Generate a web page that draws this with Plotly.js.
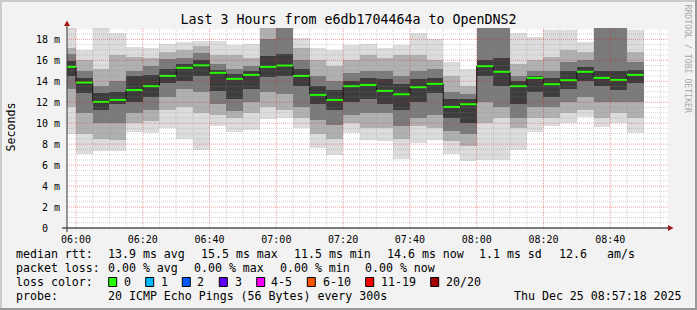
<!DOCTYPE html>
<html>
<head>
<meta charset="utf-8">
<script src="https://cdn.plot.ly/plotly-3.0.1.min.js"></script>
<style>
html,body{margin:0;padding:0;background:#f2f2f2;}
#wrap{position:relative;width:697px;height:310px;overflow:hidden;}
#chart{position:absolute;left:0;top:0;width:697px;height:310px;}
.b{position:absolute;pointer-events:none;}
</style>
</head>
<body>
<div id="wrap">
<div id="chart"></div>
<div class="b" style="left:0;top:0;width:697px;height:2px;background:#cbcbcb;"></div>
<div class="b" style="left:0;top:0;width:2px;height:310px;background:#cbcbcb;"></div>
<div class="b" style="right:0;top:0;width:2px;height:310px;background:#999999;"></div>
<div class="b" style="left:0;bottom:0;width:697px;height:2px;background:#999999;"></div>
</div>
<script>
// ---- data ----
const day = "2025-12-25 ";
const slotStart = ["05:55","06:00","06:05","06:10","06:15","06:20","06:25","06:30","06:35","06:40",
  "06:45","06:50","06:55","07:00","07:05","07:10","07:15","07:20","07:25","07:30",
  "07:35","07:40","07:45","07:50","07:55","08:00","08:05","08:10","08:15","08:20",
  "08:25","08:30","08:35","08:40","08:45"];
// median rtt (ms)
const medianMs = [15.37,13.88,12.03,12.22,13.17,13.53,14.51,15.28,15.52,14.80,
  14.23,14.61,15.37,15.50,14.51,12.70,12.22,13.53,13.65,13.08,
  12.76,13.43,13.75,11.55,11.81,15.44,14.90,13.53,14.32,13.72,
  14.10,14.90,14.32,14.13,14.61];
// smoke bands (outer -> inner), upper and lower ping values (ms)
const hi1 = [19.5,17.0,19.2,18.6,17.3,17.2,17.6,17.7,17.8,17.8,17.5,17.6,19.5,19.5,18.1,17.2,17.0,17.5,17.6,17.2,17.5,18.6,18.0,15.8,15.2,19.5,19.5,18.6,18.2,18.9,18.9,17.7,19.5,19.5,18.9];
const hi2 = [17.2,16.0,15.2,16.5,16.3,16.2,16.8,17.0,17.4,16.5,16.5,16.2,19.3,19.4,17.2,16.0,15.5,16.0,16.5,16.2,16.5,16.5,16.0,14.5,13.5,19.4,19.4,15.6,16.0,16.3,17.0,16.8,19.4,19.4,16.8];
const hi3 = [16.6,15.0,13.5,14.0,15.0,15.5,16.1,16.2,16.7,15.6,15.2,15.5,18.0,19.3,16.0,14.5,14.0,14.8,15.0,15.0,14.5,15.0,15.2,13.0,12.8,19.3,19.3,14.5,15.0,15.0,15.8,16.0,19.3,19.3,15.8];
const hi4 = [15.9,14.3,12.9,13.0,14.5,14.6,15.2,15.6,16.0,15.1,14.7,15.0,16.4,16.6,15.2,13.5,13.2,14.0,14.3,14.2,13.7,14.2,14.3,12.3,12.3,16.0,16.2,14.0,14.5,14.3,15.0,15.4,15.0,15.0,15.1];
const lo4 = [14.5,12.9,11.3,11.8,12.0,12.5,13.8,14.0,14.5,13.1,12.3,13.3,14.4,14.5,13.5,11.8,11.3,12.0,12.3,11.8,11.3,12.0,12.9,10.5,10.0,14.5,13.5,11.8,13.0,12.5,13.3,14.0,13.5,13.2,13.8];
const lo3 = [13.3,11.0,10.0,10.0,11.0,11.3,12.5,13.3,13.0,11.8,11.2,12.0,13.0,12.8,11.5,10.3,9.8,10.8,11.0,11.0,9.7,10.5,10.8,9.3,9.0,12.0,11.5,10.5,11.5,11.5,12.0,12.5,12.0,12.0,12.0];
const lo2 = [11.5,9.0,8.5,8.4,10.0,10.2,11.3,11.5,11.0,10.8,10.5,11.0,11.5,11.3,10.5,9.0,8.5,10.0,9.5,9.5,8.5,9.7,9.5,8.3,7.8,10.0,10.5,9.5,10.5,10.5,11.0,11.3,10.5,11.0,10.5];
const lo1 = [9.0,7.1,7.3,7.3,9.2,9.1,9.55,8.5,7.4,9.7,9.2,9.35,10.4,10.5,9.5,7.6,7.0,9.05,8.4,8.3,6.6,8.1,8.4,7.1,6.4,6.5,6.5,7.4,9.2,9.7,10.0,10.6,9.6,10.0,9.1];
const yTickVals = [0,2,4,6,8,10,12,14,16,18];
const yTickText = ["0\u00a0\u00a0","2 m","4 m","6 m","8 m","10 m","12 m","14 m","16 m","18 m"];
const lossLabels = ["0","1","2","3","4-5","6-10","11-19","20/20"];
const lossColors = ["#26ff00","#00b8ff","#0059ff","#5e00ff","#ff00ff","#ff5500","#ff0000","#a10000"];

// ---- helpers ----
function addMin(hm, m){const p=hm.split(":");let t=+p[0]*60+ +p[1]+m;return String(Math.floor(t/60)).padStart(2,"0")+":"+String(t%60).padStart(2,"0");}
const L=67,R=668,T=28,B=228,W=R-L,H=B-T;
const px=x=>(x-L)/W, py=y=>(B-y)/H;
const MONO="DejaVu Sans Mono";

const xs = slotStart.map(s=>day+s);
const bandDefs = [[lo1,hi1,"#dcdcdc"],[lo2,hi2,"#b0b0b0"],[lo3,hi3,"#7a7a7a"],[lo4,hi4,"#3c3c3c"]];
const traces = bandDefs.map(([lo,hi,c])=>({
  type:"bar", x:xs, base:lo, y:hi.map((v,i)=>v-lo[i]), width:300000, offset:0,
  marker:{color:c,line:{width:0}}, hoverinfo:"skip", showlegend:false
}));
traces.push({type:"scatter",mode:"lines",x:xs.concat([day+addMin(slotStart[slotStart.length-1],5)]),
  y:medianMs.concat([medianMs[medianMs.length-1]]),line:{shape:"hv",color:"#000",width:1},showlegend:false,hoverinfo:"skip"});
const gx=[],gy=[];
slotStart.forEach((s,i)=>{gx.push(day+s,day+addMin(s,5),null);gy.push(medianMs[i],medianMs[i],null);});
traces.push({type:"scatter",mode:"lines",x:gx,y:gy,line:{color:lossColors[0],width:2},showlegend:false,hoverinfo:"skip"});

// ---- grid (drawn above smoke, as rrdtool does) ----
const shapes=[];
for(let m=0;m<=175;m+=5){
  const t=addMin("06:00",m);
  shapes.push({type:"line",xref:"x",yref:"paper",x0:day+t,x1:day+t,y0:0,y1:1,layer:"above",
    line:{color:(m%20===0)?"rgba(215,40,40,0.45)":"rgba(140,140,140,0.35)",width:1,dash:"1px,1px"}});
}
for(let v=0.5;v<=19;v+=0.5){
  shapes.push({type:"line",xref:"paper",yref:"y",x0:0,x1:1,y0:v,y1:v,layer:"above",
    line:{color:(v%2===0)?"rgba(215,40,40,0.45)":"rgba(140,140,140,0.35)",width:1,dash:"1px,1px"}});
}
// axes + arrows
shapes.push({type:"line",xref:"paper",yref:"paper",x0:px(62),x1:px(670),y0:py(228),y1:py(228),layer:"above",line:{color:"#000",width:1}});
shapes.push({type:"line",xref:"paper",yref:"paper",x0:px(67),x1:px(67),y0:py(232),y1:py(24),layer:"above",line:{color:"#333",width:1}});
shapes.push({type:"path",xref:"paper",yref:"paper",layer:"above",fillcolor:"#a01818",line:{width:0},
  path:`M${px(668)},${py(225)} L${px(673.5)},${py(228)} L${px(668)},${py(231)} Z`});
shapes.push({type:"path",xref:"paper",yref:"paper",layer:"above",fillcolor:"#a01818",line:{width:0},
  path:`M${px(64)},${py(26)} L${px(67)},${py(20.5)} L${px(70)},${py(26)} Z`});

// ---- texts ----
const ann=[];
function txt(x,y,s,opt){ann.push(Object.assign({xref:"paper",yref:"paper",x:px(x),y:py(y),text:s,showarrow:false,
  xanchor:"left",yanchor:"middle",borderpad:0,font:{family:MONO,size:11.6,color:"#000"}},opt||{}));}
const nb=s=>s.replace(/ /g,"\u00a0");
const r1=254.3,r2=268.3,r3=282,r4=296;
txt(15.3,r1,"median rtt:");
[[106.5,"13.9 ms avg"],[200,"15.5 ms max"],[292.5,"11.5 ms min"],[386,"14.6 ms now"],[478.5,"1.1 ms sd"],[558.3,"12.6"],[606,"am/s"]]
  .forEach(([x,s])=>txt(x,r1,nb(s)));
txt(15.3,r2,"packet loss:");
[[106.5,"0.00 % avg"],[192.6,"0.00 % max"],[278.6,"0.00 % min"],[364.3,"0.00 % now"]].forEach(([x,s])=>txt(x,r2,nb(s)));
txt(15.3,r3,"loss color:");
const lossTextX=[122.5,159.8,196.2,233.8,270.2,321.8,379.5,444.8];
const lossBoxX=[108.7,145.7,182.3,219.3,256.7,307.3,365.7,430.7];
lossLabels.forEach((s,i)=>{
  txt(lossTextX[i],r3,s);
  shapes.push({type:"rect",xref:"paper",yref:"paper",x0:px(lossBoxX[i]),x1:px(lossBoxX[i]+8),y0:py(r3+4.5),y1:py(r3-4.5),
    fillcolor:lossColors[i],line:{color:"#000",width:1},layer:"above"});
});
txt(15.3,r4,"probe:");
txt(106.5,r4,nb("20 ICMP Echo Pings (56 Bytes) every 300s"));
txt(512.6,r4,nb("Thu Dec 25 08:57:18 2025"));
ann.push({xref:"paper",yref:"paper",x:px(10.5),y:py(127),text:"Seconds",textangle:-90,showarrow:false,
  xanchor:"center",yanchor:"middle",font:{family:MONO,size:11.6,color:"#000"}});
ann.push({xref:"paper",yref:"paper",x:px(687.5),y:py(59),text:nb("RRDTOOL / TOBI OETIKER"),textangle:90,showarrow:false,
  xanchor:"center",yanchor:"middle",font:{family:MONO,size:8.2,color:"#a8a8a8"}});

const layout={
  width:697,height:310,
  margin:{l:L,r:697-R,t:T,b:310-B,pad:0},
  paper_bgcolor:"#f2f2f2",plot_bgcolor:"#ffffff",
  barmode:"overlay",bargap:0,showlegend:false,
  title:{text:"Last 3 Hours from e6db1704464a to OpenDNS2",x:0.5,xref:"container",xanchor:"center",
    y:1-19/310,yref:"container",yanchor:"middle",font:{family:MONO,size:13.3,color:"#000"}},
  xaxis:{type:"date",range:[day+"05:57:18",day+"08:57:18"],showgrid:false,zeroline:false,showline:false,
    tickformat:"%H:%M",tick0:day+"06:00",dtick:1200000,ticks:"",ticklabelstandoff:4,
    tickfont:{family:MONO,size:10,color:"#000"},fixedrange:true},
  yaxis:{range:[0,19.08],showgrid:false,zeroline:false,showline:false,tickvals:yTickVals,ticktext:yTickText,
    ticks:"",ticklabelstandoff:6,tickfont:{family:MONO,size:10,color:"#000"},fixedrange:true},
  shapes:shapes,annotations:ann
};
Plotly.newPlot("chart",traces,layout,{staticPlot:true,displayModeBar:false});
</script>
</body>
</html>
